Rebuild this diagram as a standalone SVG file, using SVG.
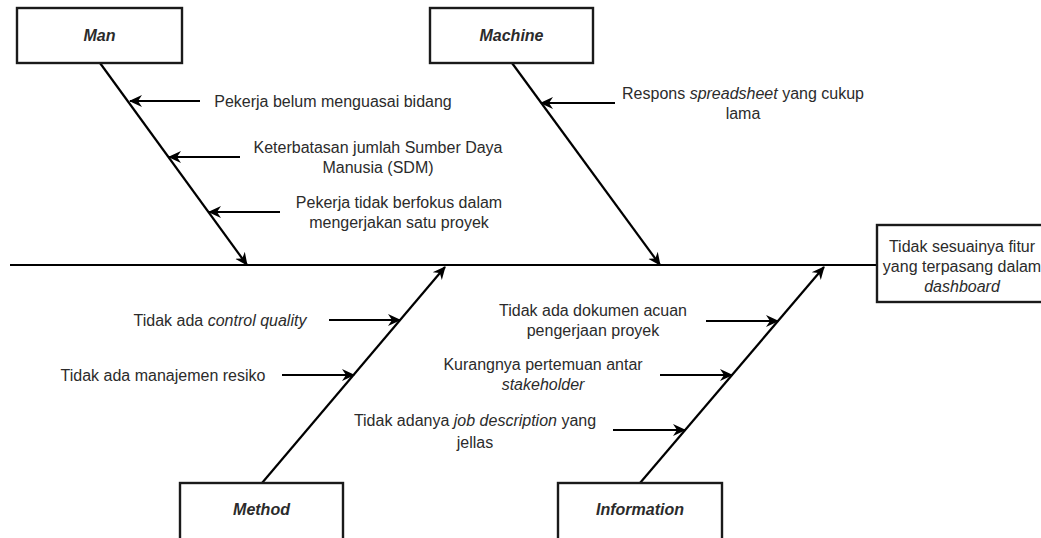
<svg xmlns="http://www.w3.org/2000/svg" width="1041" height="538" viewBox="0 0 1041 538">
<style>
  .box { fill: #ffffff; stroke: #1a1a1a; stroke-width: 2.4; }
  .lbl { font-family: "Liberation Sans", Arial, sans-serif; font-size: 16px; fill: #2b2b2b; text-anchor: middle; dominant-baseline: central; }
  .cat { font-weight: bold; font-style: italic; }
  .ln { stroke: #000000; stroke-width: 2.2; fill: none; }
  .arr { marker-end: url(#ah); }
</style>
<defs>
  <marker id="ah" markerUnits="userSpaceOnUse" markerWidth="16" markerHeight="14" refX="12" refY="7" orient="auto">
    <path d="M0,1 L13,7 L0,13 L4,7 Z" fill="#000000"/>
  </marker>
</defs>
<rect width="1041" height="538" fill="#ffffff"/>
<g id="connectors">
  <line class="ln" x1="10" y1="265" x2="877" y2="265"/>
  <line class="ln arr" x1="100" y1="63" x2="247" y2="265"/>
  <line class="ln arr" x1="512" y1="63" x2="660" y2="265"/>
  <line class="ln arr" x1="262" y1="483" x2="445" y2="267"/>
  <line class="ln arr" x1="640" y1="483" x2="824" y2="267"/>
  <line class="ln arr" x1="200" y1="101" x2="130" y2="101"/>
  <line class="ln arr" x1="240" y1="157" x2="169" y2="157"/>
  <line class="ln arr" x1="280" y1="212" x2="209" y2="212"/>
  <line class="ln arr" x1="615" y1="103" x2="541" y2="103"/>
  <line class="ln arr" x1="329" y1="320" x2="400" y2="320"/>
  <line class="ln arr" x1="282" y1="375" x2="354" y2="375"/>
  <line class="ln arr" x1="706" y1="321" x2="778" y2="321"/>
  <line class="ln arr" x1="660" y1="375" x2="732" y2="375"/>
  <line class="ln arr" x1="613" y1="430" x2="685" y2="430"/>
</g>
<g id="node-man">
  <rect class="box" x="17" y="8" width="165" height="55"/>
  <text class="lbl cat" x="99.5" y="35">Man</text>
</g>
<g id="node-machine">
  <rect class="box" x="430" y="8" width="163" height="55"/>
  <text class="lbl cat" x="511.5" y="35">Machine</text>
</g>
<g id="node-method">
  <rect class="box" x="180" y="483" width="163" height="58"/>
  <text class="lbl cat" x="261.5" y="509">Method</text>
</g>
<g id="node-information">
  <rect class="box" x="558" y="483" width="164" height="58"/>
  <text class="lbl cat" x="640" y="509">Information</text>
</g>
<g id="node-effect">
  <rect class="box" x="877" y="225" width="170" height="77"/>
  <text class="lbl" x="962" y="246">Tidak sesuainya fitur</text>
  <text class="lbl" x="962" y="266">yang terpasang dalam</text>
  <text class="lbl" x="962" y="286" font-style="italic">dashboard</text>
</g>
<g id="cause-man-1">
  <text class="lbl" x="333" y="101">Pekerja belum menguasai bidang</text>
</g>
<g id="cause-man-2">
  <text class="lbl" x="378" y="147">Keterbatasan jumlah Sumber Daya</text>
  <text class="lbl" x="378" y="167">Manusia (SDM)</text>
</g>
<g id="cause-man-3">
  <text class="lbl" x="399" y="202">Pekerja tidak berfokus dalam</text>
  <text class="lbl" x="399" y="222">mengerjakan satu proyek</text>
</g>
<g id="cause-machine-1">
  <text class="lbl" x="743" y="93">Respons <tspan font-style="italic">spreadsheet</tspan> yang cukup</text>
  <text class="lbl" x="743" y="113">lama</text>
</g>
<g id="cause-method-1">
  <text class="lbl" x="220" y="320">Tidak ada <tspan font-style="italic">control quality</tspan></text>
</g>
<g id="cause-method-2">
  <text class="lbl" x="163" y="375">Tidak ada manajemen resiko</text>
</g>
<g id="cause-info-1">
  <text class="lbl" x="593" y="310">Tidak ada dokumen acuan</text>
  <text class="lbl" x="593" y="330">pengerjaan proyek</text>
</g>
<g id="cause-info-2">
  <text class="lbl" x="543" y="364">Kurangnya pertemuan antar</text>
  <text class="lbl" x="543" y="384" font-style="italic">stakeholder</text>
</g>
<g id="cause-info-3">
  <text class="lbl" x="475" y="420">Tidak adanya <tspan font-style="italic">job description</tspan> yang</text>
  <text class="lbl" x="475" y="442">jellas</text>
</g>
</svg>
